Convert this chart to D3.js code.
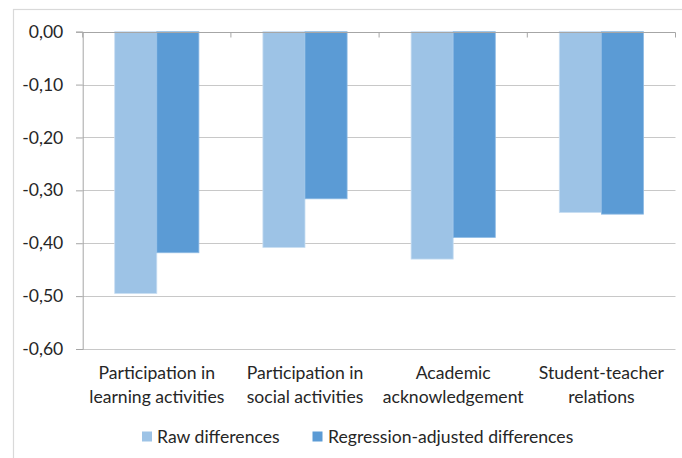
<!DOCTYPE html>
<html>
<head>
<meta charset="utf-8">
<script src="https://cdn.jsdelivr.net/npm/d3@7"></script>
<style>
  html, body { margin: 0; padding: 0; background: #fff; }
  svg { display: block; }
  text { font-family: "Lato", "Open Sans", sans-serif; fill: #262626; }
</style>
</head>
<body>
<svg id="chart" width="682" height="458"></svg>
<script>
// ---- data ----
const categories = [
  ["Participation in", "learning activities"],
  ["Participation in", "social activities"],
  ["Academic", "acknowledgement"],
  ["Student-teacher", "relations"]
];
const seriesNames = ["Raw differences", "Regression-adjusted differences"];
const rawDifferences = [-0.495, -0.408, -0.430, -0.342];
const adjustedDifferences = [-0.418, -0.316, -0.389, -0.345];
const yTicks = [0, -0.1, -0.2, -0.3, -0.4, -0.5, -0.6];
const colors = ["#9dc3e6", "#5b9bd5"];

// ---- layout ----
const svg = d3.select("#chart");
const plotLeft = 82.7, plotRight = 675.5, plotTop = 31.7, plotBottom = 349;
const fs = 17.6;

// outer frame
svg.append("rect")
  .attr("x", 13.5).attr("y", 9.5)
  .attr("width", 700).attr("height", 500)
  .attr("fill", "none").attr("stroke", "#d9d9d9").attr("stroke-width", 1.2);

const catKeys = categories.map(c => c.join(" "));
const x = d3.scaleBand().domain(catKeys).range([plotLeft, plotRight]).paddingInner(0).paddingOuter(0);
const xs = d3.scaleBand().domain(seriesNames).range([0, x.bandwidth()]).paddingInner(0).paddingOuter(0.76);
const y = d3.scaleLinear().domain([0, -0.6]).range([plotTop, plotBottom]);

const locale = d3.formatLocale({decimal: ",", thousands: ".", grouping: [3], currency: ["", ""], minus: "-"});
const fmt = locale.format(".2f");

// gridlines
svg.append("g").selectAll("line").data(yTicks.filter(v => v !== 0)).join("line")
  .attr("x1", plotLeft).attr("x2", plotRight)
  .attr("y1", d => Math.round(y(d)) + 0.5).attr("y2", d => Math.round(y(d)) + 0.5)
  .attr("stroke", "#c8c8c8").attr("stroke-width", 1);

// bars
const data = catKeys.map((k, i) => ({key: k, vals: [rawDifferences[i], adjustedDifferences[i]]}));
const groups = svg.append("g").selectAll("g").data(data).join("g")
  .attr("transform", d => `translate(${x(d.key)},0)`);
groups.selectAll("rect").data(d => d.vals.map((v, j) => ({name: seriesNames[j], v, j}))).join("rect")
  .attr("x", d => xs(d.name))
  .attr("width", xs.bandwidth())
  .attr("y", y(0))
  .attr("height", d => y(d.v) - y(0))
  .attr("fill", d => colors[d.j])
  .attr("stroke", d => d.j === 0 ? "#c9def2" : "#8ebbe4")
  .attr("stroke-width", 0.8);

// y axis
const yAxis = d3.axisLeft(y).tickValues(yTicks).tickFormat(fmt).tickSize(6.7).tickPadding(12.7);
const gy = svg.append("g").attr("transform", `translate(${plotLeft},0)`).call(yAxis);
gy.select(".domain").attr("stroke", "#a6a6a6");
gy.selectAll(".tick line").attr("stroke", "#a6a6a6");
gy.selectAll(".tick text").attr("font-size", fs).attr("font-family", "Lato").attr("fill", "#262626");

// x axis at zero with ticks pointing down
const gx = svg.append("g").attr("transform", `translate(0,${Math.round(y(0)) + 0.5})`);
gx.append("line").attr("x1", plotLeft).attr("x2", plotRight).attr("stroke", "#a6a6a6");
const bounds = catKeys.map(k => x(k)).concat([plotRight]);
gx.selectAll("line.ct").data(bounds).join("line").attr("class", "ct")
  .attr("x1", d => d).attr("x2", d => d).attr("y1", 0).attr("y2", 5)
  .attr("stroke", "#a6a6a6");

// category labels
const lab = svg.append("g").selectAll("text").data(categories).join("text")
  .attr("text-anchor", "middle")
  .attr("font-size", fs)
  .attr("transform", (d, i) => `translate(${x(catKeys[i]) + x.bandwidth() / 2},0)`);
lab.selectAll("tspan").data(d => d).join("tspan")
  .attr("x", 0)
  .attr("y", (d, i) => i === 0 ? 379.3 : 403)
  .text(d => d);

// legend
const legendX = [142, 312.5];
const legendTextX = [157, 328];
const lg = svg.append("g").selectAll("g").data(seriesNames).join("g");
lg.append("rect")
  .attr("x", (d, i) => legendX[i]).attr("y", 431.5)
  .attr("width", 10).attr("height", 10)
  .attr("fill", (d, i) => colors[i]);
lg.append("text")
  .attr("x", (d, i) => legendTextX[i]).attr("y", 442.5)
  .attr("font-size", fs)
  .text(d => d);
</script>
</body>
</html>
